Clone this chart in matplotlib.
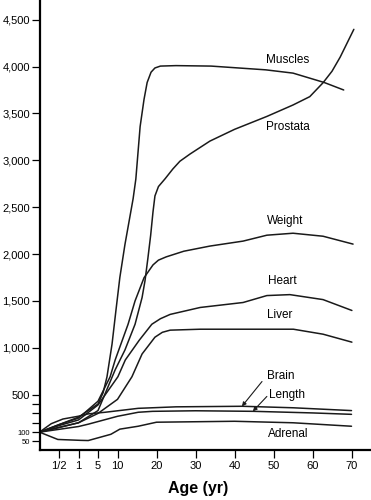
import numpy as np
import matplotlib
matplotlib.use('Agg')
import matplotlib.pyplot as plt

plt.rcParams['font.family'] = ['Liberation Sans', 'DejaVu Sans']

# ages (yr) and relative size (birth = 100)
muscles_age = [0, 0.5, 1, 5, 6.3, 7.3, 8.6, 9.6, 10.6, 11.9, 14, 14.7, 15.8, 16.8, 17.6, 18.6, 19.6, 21, 25, 34, 48, 55, 63, 68]
muscles_val = [100, 180, 260, 400, 520, 690, 1040, 1400, 1750, 2100, 2590, 2800, 3360, 3650, 3830, 3940, 3985, 4005, 4010, 4005, 3965, 3930, 3830, 3750]

prostata_age = [0, 0.5, 1, 5, 9.4, 11.9, 14.5, 16.3, 17.05, 17.8, 18.5, 19.1, 19.6, 20.5, 22.2, 24.2, 26, 28.6, 33.7, 40, 48.3, 55, 59.3, 62.7, 65, 67.1, 70.6]
prostata_val = [100, 150, 200, 330, 765, 976, 1251, 1536, 1715, 1958, 2200, 2450, 2620, 2720, 2803, 2908, 2990, 3067, 3205, 3330, 3468, 3590, 3679, 3827, 3950, 4101, 4397]

weight_age = [0, 0.5, 1, 5, 8.1, 9.4, 12.7, 14.5, 16.8, 19.1, 20.5, 22.5, 27, 33.7, 42.2, 48.3, 55, 62.7, 70.4]
weight_val = [100, 180, 250, 430, 690, 870, 1250, 1500, 1747, 1884, 1935, 1970, 2030, 2085, 2138, 2201, 2222, 2190, 2106]

heart_age = [0, 0.5, 1, 5, 10.1, 12, 15.6, 18.8, 21, 23.5, 31.2, 42.2, 48.3, 54.2, 62.7, 70.1]
heart_val = [100, 170, 230, 390, 691, 870, 1082, 1251, 1310, 1356, 1430, 1483, 1557, 1567, 1514, 1398]

liver_age = [0, 0.5, 1, 5, 10, 13.7, 16.3, 19.6, 21.5, 23.5, 31.2, 42.2, 55.1, 62.7, 70.1]
liver_val = [100, 150, 200, 300, 450, 691, 934, 1113, 1165, 1188, 1198, 1198, 1198, 1145, 1060]

brain_age = [0, 0.3, 0.6, 1, 3, 6.8, 15.3, 25, 42, 55, 70]
brain_val = [100, 190, 240, 270, 295, 312, 354, 370, 376, 360, 330]

length_age = [0, 0.5, 1, 3, 10, 15.3, 19, 30, 45, 60, 70]
length_val = [100, 130, 160, 185, 269, 312, 322, 328, 322, 305, 290]

adrenal_age = [0, 0.47, 1.5, 3, 8.3, 10.6, 15.3, 20, 40, 55, 70]
adrenal_val = [100, 59, 54, 53, 88, 132, 163, 206, 216, 200, 163]

xticks = [0.5, 1, 5, 10, 20, 30, 40, 50, 60, 70]
xtick_labels = ['1/2', '1', '5', '10', '20', '30', '40', '50', '60', '70']
yticks = [50, 100, 200, 300, 400, 500, 1000, 1500, 2000, 2500, 3000, 3500, 4000, 4500]
ytick_labels = ['50', '100', '', '', '', '500', '1,000', '1,500', '2,000', '2,500',
                '3,000', '3,500', '4,000', '4,500']

# the age axis is stretched unevenly, the bottom of the value axis too
age_pts = [0, 0.5, 1, 5, 10, 80]
age_pos = [0, 1, 2, 3, 4, 18]
val_pts = [0, 100, 5000]
val_pos = [0, 180, 180 + 4900 * 0.945]


def xf(a):
    return np.interp(a, age_pts, age_pos)


def xi(p):
    return np.interp(p, age_pos, age_pts)


def yf(v):
    return np.interp(v, val_pts, val_pos)


def yi(p):
    return np.interp(p, val_pos, val_pts)


fig = plt.figure(figsize=(3.71, 5), dpi=100)
ax = fig.add_axes([0.1065, 0.1, 0.8935, 0.9])
ax.set_xscale('function', functions=(xf, xi))
ax.set_yscale('function', functions=(yf, yi))

lc = '0.1'
lw = 1.1
for a, v in [(muscles_age, muscles_val), (prostata_age, prostata_val),
             (weight_age, weight_val), (heart_age, heart_val),
             (liver_age, liver_val), (brain_age, brain_val),
             (length_age, length_val), (adrenal_age, adrenal_val)]:
    ax.plot(a, v, color=lc, lw=lw, solid_capstyle='round', solid_joinstyle='round')

ax.set_xlim(0, 75)
ax.set_ylim(0, 4710)

fs = 8.5
ax.text(53.7, 4070, 'Muscles', fontsize=fs, ha='center', va='center')
ax.text(53.7, 3352, 'Prostata', fontsize=fs, ha='center', va='center')
ax.text(53.0, 2349, 'Weight', fontsize=fs, ha='center', va='center')
ax.text(52.2, 1715, 'Heart', fontsize=fs, ha='center', va='center')
ax.text(51.7, 1345, 'Liver', fontsize=fs, ha='center', va='center')
ax.text(51.9, 694, 'Brain', fontsize=fs, ha='center', va='center')
ax.text(53.5, 492, 'Length', fontsize=fs, ha='center', va='center')
ax.text(53.7, 88, 'Adrenal', fontsize=fs, ha='center', va='center')

arr = dict(arrowstyle='-|>', color=lc, lw=0.8, mutation_scale=6, shrinkA=0, shrinkB=0)
ax.annotate('', xy=(41.9, 375), xytext=(47.05, 640), arrowprops=arr)
ax.annotate('', xy=(44.7, 322), xytext=(48.3, 481), arrowprops=arr)

ax.spines['top'].set_visible(False)
ax.spines['right'].set_visible(False)
ax.spines['left'].set_linewidth(1.6)
ax.spines['bottom'].set_linewidth(1.6)

ax.set_xticks(xticks)
ax.set_xticklabels(xtick_labels)
ax.set_yticks(yticks)
ax.set_yticklabels(ytick_labels)
ax.minorticks_off()
ax.tick_params(axis='both', direction='out', length=6, width=0.9, colors='black')
ax.tick_params(axis='x', labelsize=8, pad=2)
ax.tick_params(axis='y', labelsize=8, pad=1)
for lab in ax.get_yticklabels():
    if lab.get_text() in ('50', '100'):
        lab.set_fontsize(5.5)

ax.set_xlabel('Age (yr)', fontsize=11.5, fontweight='bold')
ax.xaxis.set_label_coords(0.478, -0.07)

fig.savefig('out.png', dpi=100)
